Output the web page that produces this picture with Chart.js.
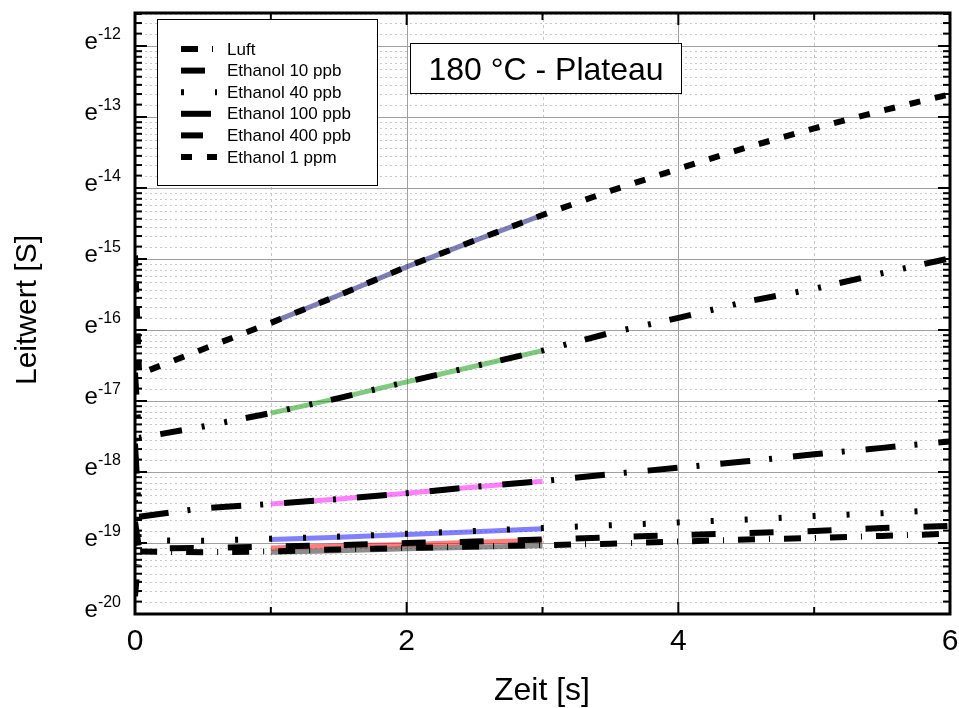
<!DOCTYPE html>
<html>
<head>
<meta charset="utf-8">
<title>Leitwert - 180 °C Plateau</title>
<script src="https://cdn.jsdelivr.net/npm/chart.js@4.4.1/dist/chart.umd.min.js"></script>
<style>
  html, body { margin: 0; padding: 0; background: #fff; }
  #wrap { width: 959px; height: 708px; }
</style>
</head>
<body>
<div id="wrap"><canvas id="chart" width="959" height="708"></canvas></div>
<script>
// Measured curves, values are ln(Leitwert / S)
const timeX = [0, 0.03, 0.5, 1, 1.5, 2, 2.5, 3, 3.5, 4, 4.5, 5, 5.5, 6];
const luft    = [-19.75, -19.12, -19.13, -19.12, -19.09, -19.07, -19.05, -19.03, -19.01, -18.98, -18.95, -18.93, -18.90, -18.87];
const eth10   = [-18.70, -19.08, -19.07, -19.05, -19.03, -19.00, -18.98, -18.95, -18.92, -18.89, -18.86, -18.83, -18.79, -18.76];
const eth40   = [-18.40, -18.96, -18.97, -18.94, -18.91, -18.87, -18.83, -18.79, -18.75, -18.71, -18.67, -18.62, -18.58, -18.53];
const eth100  = [-17.60, -18.63, -18.51, -18.45, -18.38, -18.30, -18.21, -18.13, -18.03, -17.94, -17.85, -17.75, -17.66, -17.57];
const eth400  = [-16.60, -17.52, -17.36, -17.17, -16.96, -16.73, -16.51, -16.29, -16.04, -15.83, -15.60, -15.42, -15.20, -14.99];
const eth1ppm = [-14.95, -16.62, -16.27, -15.90, -15.51, -15.11, -14.74, -14.38, -14.04, -13.73, -13.43, -13.16, -12.91, -12.68];

// Fits between 1 s and 3 s
const fitX = [1, 1.5, 2, 2.5, 3];
const fitLuft = [-19.13, -19.11, -19.08, -19.06, -19.04];
const fit10   = [-19.07, -19.04, -19.02, -18.99, -18.96];
const fit40   = [-18.95, -18.92, -18.88, -18.84, -18.80];
const fit100  = [-18.45, -18.38, -18.30, -18.21, -18.13];
const fit400  = [-17.17, -16.96, -16.73, -16.51, -16.29];
const fit1ppm = [-15.90, -15.51, -15.11, -14.74, -14.38];

const seriesNames = ['Luft', 'Ethanol 10 ppb', 'Ethanol 40 ppb', 'Ethanol 100 ppb', 'Ethanol 400 ppb', 'Ethanol 1 ppm'];
const xTicks = [0, 2, 4, 6];
const xMinorTicks = [1, 3, 5];
const yTicks = [-20, -19, -18, -17, -16, -15, -14, -13, -12];
const yMin = -20;
const yMax = -11.535;
const titleText = '180 °C - Plateau';
const xTitle = 'Zeit [s]';
const yTitle = 'Leitwert [S]';

const FONT = "'Liberation Sans', Arial, Helvetica, sans-serif";

function toPoints(xs, ys) {
    return xs.map((x, i) => ({ x: x, y: ys[i] }));
}

function line(ctx, x1, y1, x2, y2) {
    ctx.beginPath();
    ctx.moveTo(x1, y1);
    ctx.lineTo(x2, y2);
    ctx.stroke();
}

// minor ticks: linear steps of the e-decade, 9 parts
function minorValues() {
    const out = [];
    for (let n = yMin; n < Math.ceil(yMax); n++) {
        for (let k = 1; k <= 8; k++) {
            const v = n + Math.log(1 + k * (Math.E - 1) / 9);
            if (v > yMin && v < yMax) out.push(v);
        }
    }
    return out;
}

const dashStyles = [
    [17, 14, 1, 14],
    [24, 34],
    [3, 31],
    [30, 19, 3, 21],
    [22, 20, 3, 20, 3, 19],
    [11, 15]
];
const fitColors = [
    'rgba(0, 0, 0, 0.45)',
    'rgba(255, 0, 0, 0.5)',
    'rgba(0, 0, 255, 0.5)',
    'rgba(255, 0, 255, 0.5)',
    'rgba(0, 150, 0, 0.5)',
    'rgba(0, 0, 110, 0.5)'
];
const measured = [luft, eth10, eth40, eth100, eth400, eth1ppm];
const fits = [fitLuft, fit10, fit40, fit100, fit400, fit1ppm];

const datasets = [];
measured.forEach((ys, i) => {
    datasets.push({
        label: seriesNames[i],
        data: toPoints(timeX, ys),
        borderColor: '#000',
        borderWidth: 6,
        borderDash: dashStyles[i],
        pointRadius: 0,
        tension: 0,
        order: 0
    });
});
fits.forEach((ys, i) => {
    datasets.push({
        label: seriesNames[i] + ' Fit',
        data: toPoints(fitX, ys),
        borderColor: fitColors[i],
        borderWidth: 5,
        pointRadius: 0,
        tension: 0,
        order: 1
    });
});

// grid behind the curves
const gridPlugin = {
    id: 'plotGrid',
    beforeDatasetsDraw(chart) {
        const { ctx, chartArea: a, scales: { x, y } } = chart;
        ctx.save();
        ctx.lineWidth = 1;

        ctx.strokeStyle = '#c8c8c8';
        ctx.setLineDash([2, 3]);
        minorValues().forEach(v => {
            const py = Math.round(y.getPixelForValue(v)) + 0.5;
            line(ctx, a.left, py, a.right, py);
        });

        ctx.setLineDash([3, 3]);
        xMinorTicks.forEach(v => {
            const px = Math.round(x.getPixelForValue(v)) + 0.5;
            line(ctx, px, a.top, px, a.bottom);
        });

        ctx.setLineDash([]);
        ctx.strokeStyle = '#a0a0a0';
        yTicks.forEach(v => {
            const py = Math.round(y.getPixelForValue(v)) + 0.5;
            line(ctx, a.left, py, a.right, py);
        });
        xTicks.forEach(v => {
            const px = Math.round(x.getPixelForValue(v)) + 0.5;
            line(ctx, px, a.top, px, a.bottom);
        });
        ctx.restore();
    }
};

// frame, inner ticks, labels, legend and title box
const framePlugin = {
    id: 'plotFrame',
    afterDatasetsDraw(chart) {
        const { ctx, chartArea: a, scales: { x, y } } = chart;
        ctx.save();
        ctx.setLineDash([]);
        ctx.strokeStyle = '#000';

        // ticks pointing inwards on all four sides
        ctx.lineWidth = 2;
        yTicks.forEach(v => {
            const py = y.getPixelForValue(v);
            line(ctx, a.left, py, a.left + 12, py);
            line(ctx, a.right, py, a.right - 12, py);
        });
        minorValues().forEach(v => {
            const py = y.getPixelForValue(v);
            line(ctx, a.left, py, a.left + 7, py);
            line(ctx, a.right, py, a.right - 7, py);
        });
        xTicks.forEach(v => {
            const px = x.getPixelForValue(v);
            line(ctx, px, a.bottom, px, a.bottom - 12);
            line(ctx, px, a.top, px, a.top + 12);
        });
        xMinorTicks.forEach(v => {
            const px = x.getPixelForValue(v);
            line(ctx, px, a.bottom, px, a.bottom - 7);
            line(ctx, px, a.top, px, a.top + 7);
        });

        ctx.lineWidth = 3;
        ctx.strokeRect(a.left, a.top, a.right - a.left, a.bottom - a.top);

        // y tick labels as e^n
        ctx.fillStyle = '#000';
        ctx.textBaseline = 'alphabetic';
        yTicks.forEach(v => {
            const py = y.getPixelForValue(v);
            const sup = String(v);
            ctx.font = '16px ' + FONT;
            ctx.textAlign = 'right';
            const supW = ctx.measureText(sup).width;
            ctx.fillText(sup, 121, py - 7);
            ctx.font = '24px ' + FONT;
            ctx.fillText('e', 121 - supW, py + 3);
        });

        // x tick labels
        ctx.font = '30px ' + FONT;
        ctx.textAlign = 'center';
        xTicks.forEach(v => {
            ctx.fillText(String(v), x.getPixelForValue(v), 650);
        });

        // axis titles
        ctx.font = '32px ' + FONT;
        ctx.fillText(xTitle, 542, 700);
        ctx.save();
        ctx.translate(28, 310);
        ctx.rotate(-Math.PI / 2);
        ctx.font = '30px ' + FONT;
        ctx.textBaseline = 'middle';
        ctx.fillText(yTitle, 0, 0);
        ctx.restore();

        // legend
        ctx.lineWidth = 1;
        ctx.fillStyle = '#fff';
        ctx.fillRect(157.5, 19.5, 220, 166);
        ctx.strokeRect(157.5, 19.5, 220, 166);
        ctx.font = '17px ' + FONT;
        ctx.textAlign = 'left';
        ctx.textBaseline = 'middle';
        seriesNames.forEach((name, i) => {
            const ds = chart.data.datasets[i];
            const ly = 49 + i * 21.6;
            ctx.strokeStyle = ds.borderColor;
            ctx.lineWidth = ds.borderWidth;
            ctx.setLineDash(ds.borderDash);
            line(ctx, 181, ly, 217, ly);
            ctx.setLineDash([]);
            ctx.fillStyle = '#000';
            ctx.fillText(name, 227, ly + 1);
        });

        // title box
        ctx.lineWidth = 1;
        ctx.strokeStyle = '#000';
        ctx.fillStyle = '#fff';
        ctx.fillRect(410.5, 43.5, 271, 50);
        ctx.strokeRect(410.5, 43.5, 271, 50);
        ctx.fillStyle = '#000';
        ctx.font = '32px ' + FONT;
        ctx.textAlign = 'center';
        ctx.textBaseline = 'alphabetic';
        ctx.fillText(titleText, 546, 80);

        ctx.restore();
    }
};

const chart = new Chart(document.getElementById('chart').getContext('2d'), {
    type: 'line',
    data: { datasets: datasets },
    options: {
        responsive: false,
        animation: false,
        devicePixelRatio: 1,
        layout: { padding: { left: 135, right: 9, top: 13, bottom: 94 } },
        scales: {
            x: { type: 'linear', min: 0, max: 6, display: false },
            y: { type: 'linear', min: yMin, max: yMax, display: false }
        },
        plugins: {
            legend: { display: false },
            tooltip: { enabled: false }
        }
    },
    plugins: [gridPlugin, framePlugin]
});
</script>
</body>
</html>
